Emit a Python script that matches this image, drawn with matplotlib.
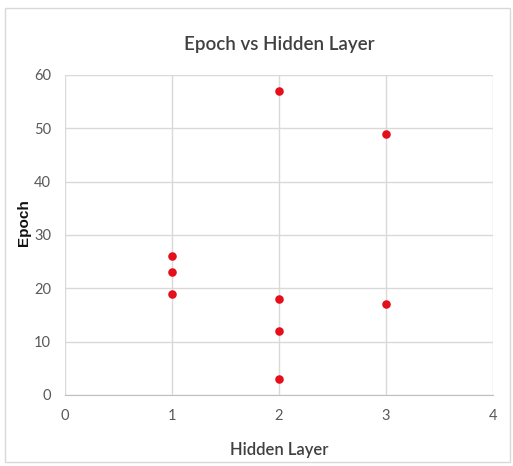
import matplotlib.pyplot as plt
from matplotlib.patches import Rectangle

hidden_layer = [1, 1, 1, 2, 2, 2, 2, 3, 3]
epoch = [26, 23, 19, 57, 18, 12, 3, 49, 17]
x_ticks = [0, 1, 2, 3, 4]
y_ticks = [0, 10, 20, 30, 40, 50, 60]

fig = plt.figure(figsize=(5.13, 4.66), dpi=100)
fig.patches.append(Rectangle((5 / 513, 4 / 466), 505 / 513, 454 / 466,
                             transform=fig.transFigure, fill=False,
                             edgecolor="#d9d9d9", linewidth=1))
ax = fig.add_axes([65 / 513, 71 / 466, 428 / 513, 320 / 466])

ax.scatter(hidden_layer, epoch, s=38, color="#e3101c", zorder=3, linewidths=0)

ax.set_xlim(0, 4)
ax.set_ylim(0, 60)
ax.set_xticks(x_ticks)
ax.set_yticks(y_ticks)
ax.grid(True, color="#d9d9d9", linewidth=1)
ax.set_axisbelow(True)
for side in ["top", "right", "left"]:
    ax.spines[side].set_visible(False)
ax.spines["bottom"].set_color("#bfbfbf")
ax.tick_params(length=0, colors="#595959", labelsize=10.5, pad=10)
for lab in ax.get_xticklabels() + ax.get_yticklabels():
    lab.set_family("Lato")

ax.set_title("Epoch vs Hidden Layer", family="Lato", fontsize=13.5,
             fontweight="semibold", color="#404040", pad=18)
ax.set_xlabel("Hidden Layer", family="Lato", fontsize=12,
              fontweight="semibold", color="#404040", labelpad=14)
ax.set_ylabel("Epoch", family="Liberation Sans", fontsize=11, fontweight="bold",
              color="#111111")
ax.yaxis.set_label_coords(-0.08, 0.54)

fig.savefig("out.png", dpi=100)
